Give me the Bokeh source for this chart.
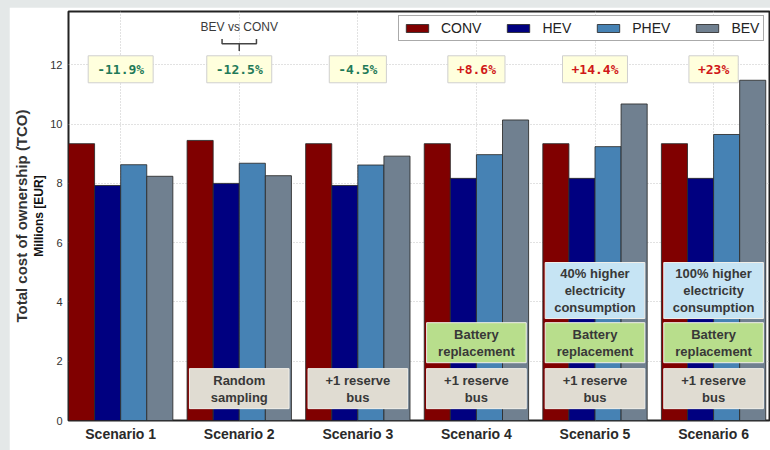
from bokeh.plotting import figure
from bokeh.models import ColumnDataSource, Range1d, FixedTicker, LinearAxis
from bokeh.transform import dodge
from bokeh.core.properties import value
from bokeh.embed import file_html
from bokeh.resources import INLINE

# ---------------- data ----------------
scenarios = ["Scenario 1", "Scenario 2", "Scenario 3", "Scenario 4", "Scenario 5", "Scenario 6"]
conv = [9.34, 9.45, 9.34, 9.34, 9.34, 9.34]
hev = [7.93, 8.00, 7.93, 8.17, 8.17, 8.17]
phev = [8.63, 8.68, 8.62, 8.97, 9.24, 9.65]
bev = [8.24, 8.26, 8.92, 10.14, 10.68, 11.48]
series_names = ["CONV", "HEV", "PHEV", "BEV"]
series_colors = ["#800000", "#000080", "#4682b4", "#708090"]
bev_vs_conv = ["-11.9%", "-12.5%", "-4.5%", "+8.6%", "+14.4%", "+23%"]
y_ticks = [0, 2, 4, 6, 8, 10, 12]

note_scenario = [1, 2, 3, 3, 4, 4, 4, 5, 5, 5]
note_kind = ["base", "base", "base", "battery", "base", "battery", "energy",
             "base", "battery", "energy"]
note_text = ["Random\nsampling", "+1 reserve\nbus", "+1 reserve\nbus",
             "Battery\nreplacement", "+1 reserve\nbus", "Battery\nreplacement",
             "40% higher\nelectricity\nconsumption", "+1 reserve\nbus",
             "Battery\nreplacement", "100% higher\nelectricity\nconsumption"]

# ---------------- style ----------------
BAR_W = 0.22
NOTE_HALF = 0.42
kind_style = {
    "base": (0.40, 1.75, "#e0dcd2"),
    "battery": (1.95, 3.30, "#b8de8c"),
    "energy": (3.44, 5.33, "#c6e4f4"),
}
PCT_Y = 11.85
FONT = "Liberation Sans"

xs = list(range(len(scenarios)))

p = figure(width=761, height=443, output_backend="svg", toolbar_location=None,
           x_range=Range1d(-0.44, 5.48), y_range=Range1d(0, 13.8),
           min_border_left=59, min_border_right=0, min_border_top=4,
           min_border_bottom=30)
p.background_fill_color = "white"
p.border_fill_color = "white"
p.outline_line_color = "#222222"
p.outline_line_width = 2

src = ColumnDataSource(dict(x=xs, CONV=conv, HEV=hev, PHEV=phev, BEV=bev))
offsets = [(-1.5 + i) * BAR_W for i in range(len(series_names))]
for name, col, off in zip(series_names, series_colors, offsets):
    p.vbar(x=dodge("x", off, range=p.x_range), top=name, width=BAR_W, source=src,
           fill_color=col, line_color="#2a2a2a", line_width=1, line_alpha=0.85,
           legend_label=name)

# bottom annotation boxes
nx = [xs[i] for i in note_scenario]
nsrc = ColumnDataSource(dict(
    left=[x - NOTE_HALF for x in nx], right=[x + NOTE_HALF for x in nx],
    bottom=[kind_style[k][0] for k in note_kind], top=[kind_style[k][1] for k in note_kind],
    color=[kind_style[k][2] for k in note_kind],
    x=nx, y=[(kind_style[k][0] + kind_style[k][1]) / 2 for k in note_kind],
    text=note_text))
p.quad(left="left", right="right", bottom="bottom", top="top", source=nsrc,
       fill_color="color", line_color="#f2f0ea", line_width=1)
p.text(x="x", y="y", text="text", source=nsrc, text_font=value(FONT),
       text_font_style="bold", text_font_size="13px", text_color="#383838",
       text_align="center", text_baseline="middle", text_line_height=1.15)

# percentage boxes
psrc = ColumnDataSource(dict(
    x=xs, y=[PCT_Y] * len(xs), text=bev_vs_conv,
    color=["#1f7a58" if t.startswith("-") else "#d01818" for t in bev_vs_conv]))
p.text(x="x", y="y", text="text", source=psrc, text_font=value("DejaVu Sans Mono"),
       text_font_style="bold", text_font_size="13px", text_color="color",
       text_align="center", text_baseline="middle",
       background_fill_color="#ffffdd", border_line_color="#cfcfcf",
       padding=(9, 6))

# "BEV vs CONV" bracket above scenario 2
c = xs[1]
p.text(x=[c], y=[13.28], text=["BEV vs CONV"], text_font=value(FONT),
       text_font_size="12px", text_color="#3a3a3a", text_align="center",
       text_baseline="middle")
p.multi_line(xs=[[c - 0.145, c - 0.145, c + 0.145, c + 0.145], [c, c]],
             ys=[[12.87, 12.71, 12.71, 12.87], [12.71, 12.47]],
             line_color="#444444", line_width=1.5)

# axes
p.xaxis.ticker = FixedTicker(ticks=xs)
p.xaxis.major_label_overrides = {x: s for x, s in zip(xs, scenarios)}
p.xaxis.major_label_text_font = FONT
p.xaxis.major_label_text_font_style = "bold"
p.xaxis.major_label_text_font_size = "14px"
p.xaxis.major_label_text_color = "#2a2a2a"
p.xaxis.major_tick_out = 0
p.xaxis.major_tick_in = 0
p.xaxis.major_label_standoff = 5
p.xaxis.major_tick_line_color = None
p.xaxis.minor_tick_line_color = None
p.xaxis.axis_line_color = None

p.yaxis.ticker = FixedTicker(ticks=y_ticks)
p.yaxis.major_label_text_font = FONT
p.yaxis.major_label_text_font_size = "11px"
p.yaxis.major_label_text_color = "#333333"
p.yaxis.major_tick_out = 0
p.yaxis.major_tick_in = 0
p.yaxis.major_label_standoff = 6
p.yaxis.major_tick_line_color = None
p.yaxis.minor_tick_line_color = None
p.yaxis.axis_line_color = None
p.yaxis.axis_label = "Millions [EUR]"
p.yaxis.axis_label_text_font = FONT
p.yaxis.axis_label_text_font_style = "bold"
p.yaxis.axis_label_text_font_size = "12px"
p.yaxis.axis_label_text_color = "#111111"
p.yaxis.axis_label_standoff = 1

outer = LinearAxis(ticker=FixedTicker(ticks=[]), axis_label="Total cost of ownership (TCO)",
                   axis_line_color=None, major_tick_line_color=None,
                   minor_tick_line_color=None, major_label_text_font_size="0px",
                   major_tick_out=0, major_tick_in=0, major_label_standoff=0,
                   axis_label_standoff=0, axis_label_text_font=FONT,
                   axis_label_text_font_style="bold", axis_label_text_font_size="15px",
                   axis_label_text_color="#333333")
p.add_layout(outer, "left")

p.xgrid.ticker = FixedTicker(ticks=xs)
p.ygrid.ticker = FixedTicker(ticks=y_ticks)
for g in (p.xgrid, p.ygrid):
    g.grid_line_color = "#c4c4c4"
    g.grid_line_dash = "1 2"
    g.grid_line_width = 1

# legend
lg = p.legend[0]
lg.orientation = "horizontal"
lg.location = (330, 379)
lg.margin = 0
lg.padding = 4
lg.spacing = 23
lg.glyph_width = 28
lg.glyph_height = 10
lg.label_height = 16
lg.label_standoff = 10
lg.label_text_font = FONT
lg.label_text_font_size = "14px"
lg.label_text_color = "#222222"
lg.border_line_color = "#555555"
lg.border_line_width = 1
lg.background_fill_alpha = 1

html = file_html(p, INLINE)
html = html.replace("</head>",
                    "<style>body{background:#e4e8e8;padding:7px 0 0 9px;overflow:hidden;}</style></head>", 1)
open("out.html", "w").write(html)
